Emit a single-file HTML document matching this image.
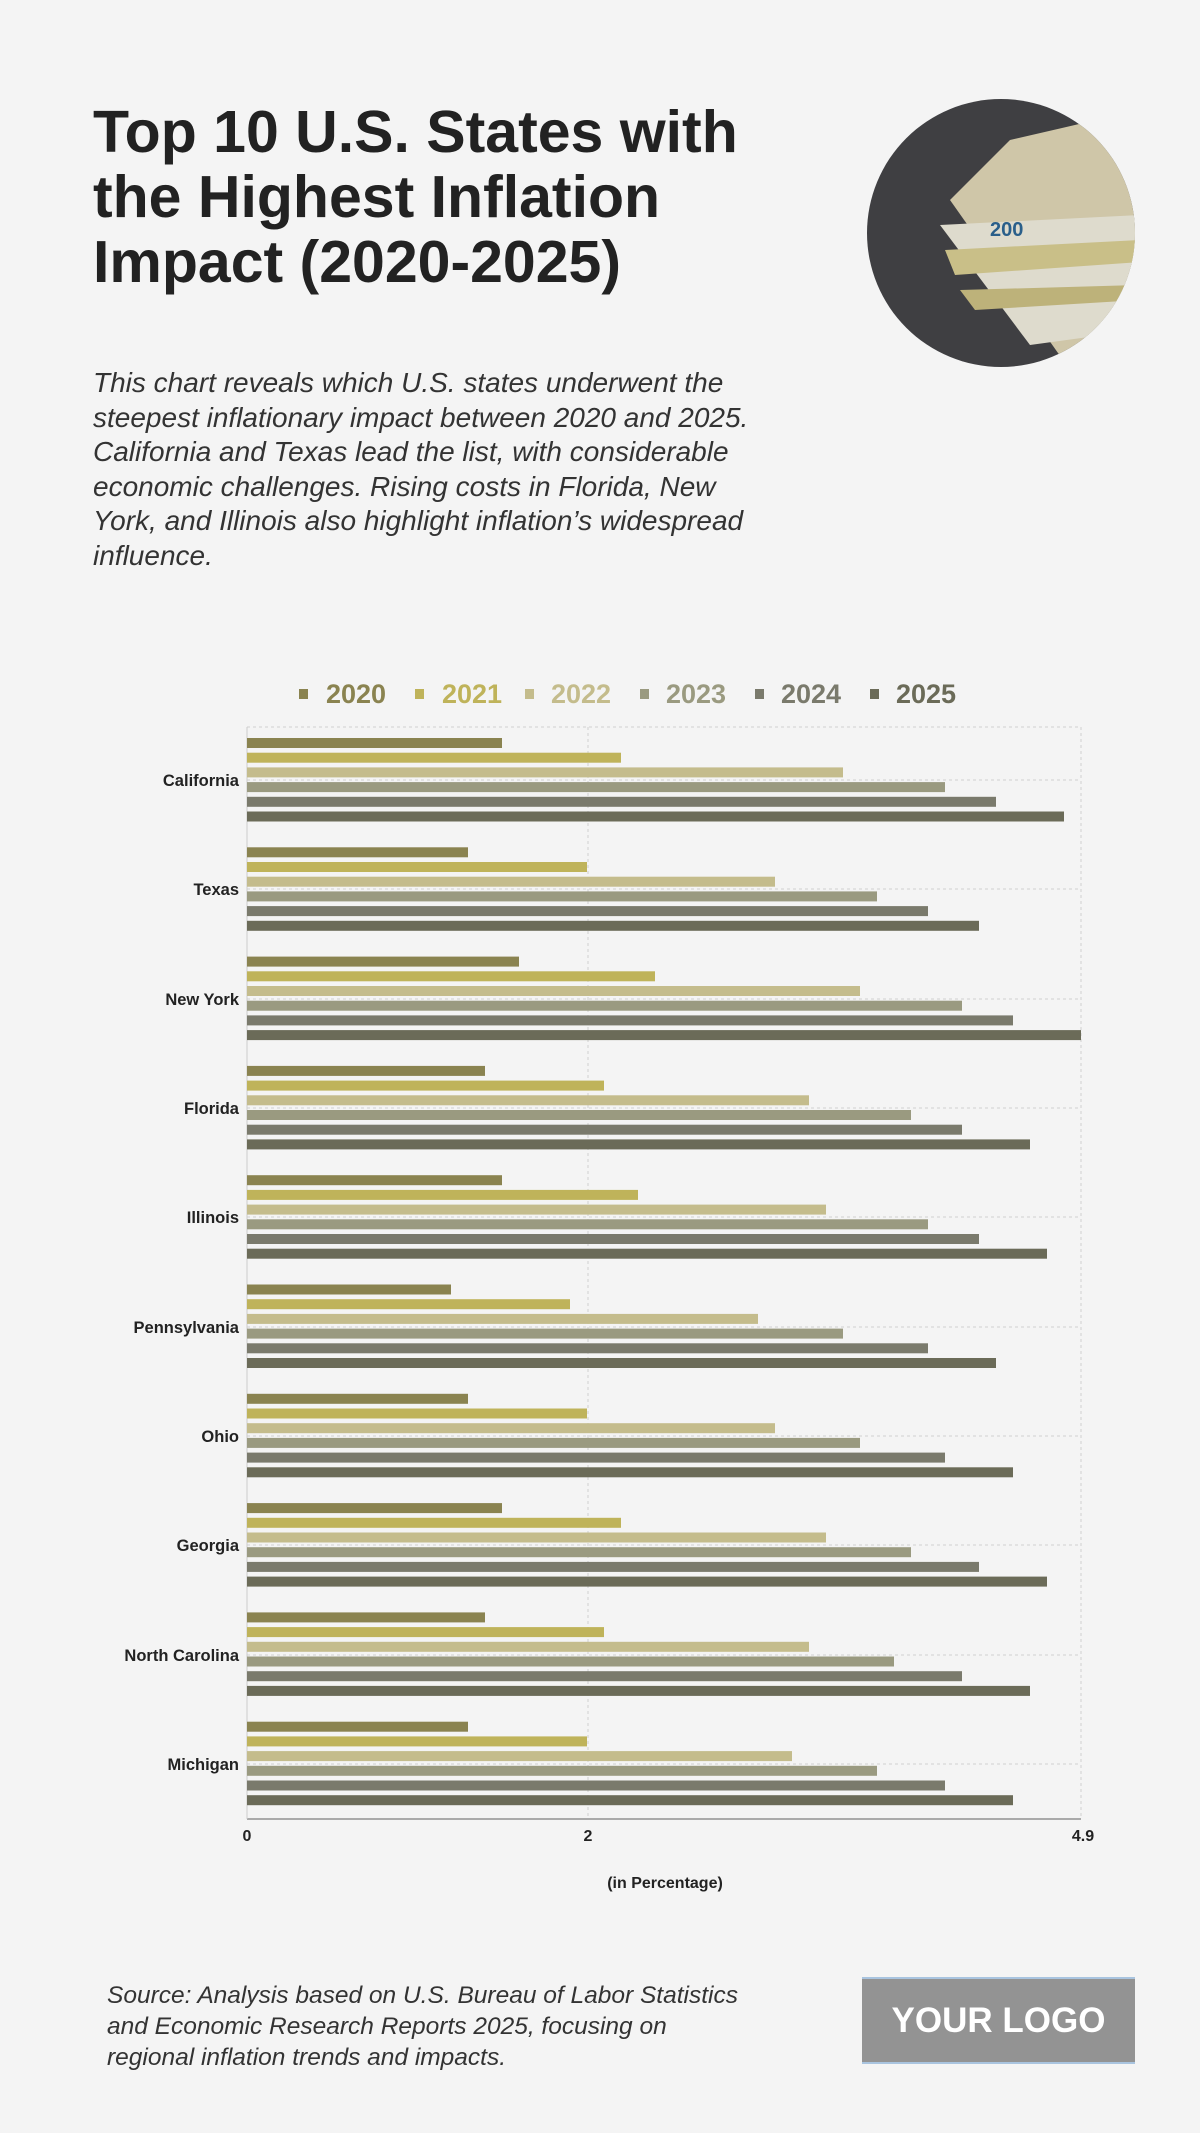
<!DOCTYPE html>
<html><head><meta charset="utf-8"><style>
body{margin:0;background:#f4f4f4;width:1200px;height:2133px;overflow:hidden;position:relative;font-family:"Liberation Sans",sans-serif}
h1{position:absolute;left:93px;top:100px;margin:0;font-size:59px;line-height:65px;font-weight:700;color:#222}
.desc{position:absolute;left:93px;top:366px;width:900px;font-size:28px;line-height:34.5px;font-style:italic;color:#333;white-space:nowrap}
.src{position:absolute;left:107px;top:1980px;font-size:24.5px;line-height:31px;font-style:italic;color:#333;white-space:nowrap}
.logo{position:absolute;left:862px;top:1977px;width:273px;height:87px;background:#939393;border-top:2px solid #a9c4df;border-bottom:2px solid #a9c4df;box-sizing:border-box;color:#fff;font-weight:700;font-size:35px;text-align:center;line-height:83px}
</style></head><body>
<h1>Top 10 U.S. States with<br>the Highest Inflation<br>Impact (2020-2025)</h1>
<div class="desc">This chart reveals which U.S. states underwent the<br>steepest inflationary impact between 2020 and 2025.<br>California and Texas lead the list, with considerable<br>economic challenges. Rising costs in Florida, New<br>York, and Illinois also highlight inflation’s widespread<br>influence.</div>
<svg style="position:absolute;left:0;top:0" width="1200" height="2133">
<defs><clipPath id="c"><circle cx="1001" cy="233" r="134"/></clipPath></defs>
<g clip-path="url(#c)">
<rect x="860" y="90" width="290" height="290" fill="#3f3f42"/>
<polygon points="950,200 1010,140 1140,110 1140,360 1070,370" fill="#cfc6a8"/>
<polygon points="940,225 1140,215 1140,330 1030,345" fill="#dedbcd"/>
<polygon points="945,250 1140,240 1140,262 955,275" fill="#c9bf88"/>
<polygon points="960,290 1140,285 1140,300 975,310" fill="#bdb27a"/>
<text x="990" y="236" font-size="20" font-weight="700" fill="#2a5f8a" font-family="Liberation Sans">200</text>
</g>
<g font-family="Liberation Sans" font-weight="700" font-size="27">
<rect x="299" y="689" width="9" height="10" fill="#8a8350"/><text x="326" y="703" fill="#8a8350">2020</text>
<rect x="415" y="689" width="9" height="10" fill="#bfb35a"/><text x="442" y="703" fill="#bfb35a">2021</text>
<rect x="525" y="689" width="9" height="10" fill="#c4bc8c"/><text x="551" y="703" fill="#c4bc8c">2022</text>
<rect x="640" y="689" width="9" height="10" fill="#9a9a80"/><text x="666" y="703" fill="#9a9a80">2023</text>
<rect x="755" y="689" width="9" height="10" fill="#7a7a6c"/><text x="781" y="703" fill="#7a7a6c">2024</text>
<rect x="870" y="689" width="9" height="10" fill="#6b6b58"/><text x="896" y="703" fill="#6b6b58">2025</text>
</g>
<g stroke="#d0d0d0" stroke-width="1" stroke-dasharray="3,3">
<line x1="247" y1="727" x2="1081" y2="727"/>
<line x1="588" y1="727" x2="588" y2="1819"/>
<line x1="1081" y1="727" x2="1081" y2="1819"/>
<line x1="247" y1="780" x2="1081" y2="780"/><line x1="247" y1="889" x2="1081" y2="889"/><line x1="247" y1="999" x2="1081" y2="999"/><line x1="247" y1="1108" x2="1081" y2="1108"/><line x1="247" y1="1217" x2="1081" y2="1217"/><line x1="247" y1="1327" x2="1081" y2="1327"/><line x1="247" y1="1436" x2="1081" y2="1436"/><line x1="247" y1="1545" x2="1081" y2="1545"/><line x1="247" y1="1655" x2="1081" y2="1655"/><line x1="247" y1="1764" x2="1081" y2="1764"/>
</g>
<line x1="247" y1="1819" x2="1081" y2="1819" stroke="#aaa" stroke-width="2"/>
<line x1="247" y1="727" x2="247" y2="1819" stroke="#ccc" stroke-width="1"/>
<g id="bars">
<g transform="translate(247,738)"><rect y="0" width="255" height="10" fill="#8a8350"/><rect y="14.7" width="374" height="10" fill="#bfb35a"/><rect y="29.4" width="596" height="10" fill="#c4bc8c"/><rect y="44.1" width="698" height="10" fill="#9a9a80"/><rect y="58.8" width="749" height="10" fill="#7a7a6c"/><rect y="73.5" width="817" height="10" fill="#6b6b58"/></g>
<g transform="translate(247,847.3)"><rect y="0" width="221" height="10" fill="#8a8350"/><rect y="14.7" width="340" height="10" fill="#bfb35a"/><rect y="29.4" width="528" height="10" fill="#c4bc8c"/><rect y="44.1" width="630" height="10" fill="#9a9a80"/><rect y="58.8" width="681" height="10" fill="#7a7a6c"/><rect y="73.5" width="732" height="10" fill="#6b6b58"/></g>
<g transform="translate(247,956.6)"><rect y="0" width="272" height="10" fill="#8a8350"/><rect y="14.7" width="408" height="10" fill="#bfb35a"/><rect y="29.4" width="613" height="10" fill="#c4bc8c"/><rect y="44.1" width="715" height="10" fill="#9a9a80"/><rect y="58.8" width="766" height="10" fill="#7a7a6c"/><rect y="73.5" width="834" height="10" fill="#6b6b58"/></g>
<g transform="translate(247,1065.9)"><rect y="0" width="238" height="10" fill="#8a8350"/><rect y="14.7" width="357" height="10" fill="#bfb35a"/><rect y="29.4" width="562" height="10" fill="#c4bc8c"/><rect y="44.1" width="664" height="10" fill="#9a9a80"/><rect y="58.8" width="715" height="10" fill="#7a7a6c"/><rect y="73.5" width="783" height="10" fill="#6b6b58"/></g>
<g transform="translate(247,1175.2)"><rect y="0" width="255" height="10" fill="#8a8350"/><rect y="14.7" width="391" height="10" fill="#bfb35a"/><rect y="29.4" width="579" height="10" fill="#c4bc8c"/><rect y="44.1" width="681" height="10" fill="#9a9a80"/><rect y="58.8" width="732" height="10" fill="#7a7a6c"/><rect y="73.5" width="800" height="10" fill="#6b6b58"/></g>
<g transform="translate(247,1284.5)"><rect y="0" width="204" height="10" fill="#8a8350"/><rect y="14.7" width="323" height="10" fill="#bfb35a"/><rect y="29.4" width="511" height="10" fill="#c4bc8c"/><rect y="44.1" width="596" height="10" fill="#9a9a80"/><rect y="58.8" width="681" height="10" fill="#7a7a6c"/><rect y="73.5" width="749" height="10" fill="#6b6b58"/></g>
<g transform="translate(247,1393.8)"><rect y="0" width="221" height="10" fill="#8a8350"/><rect y="14.7" width="340" height="10" fill="#bfb35a"/><rect y="29.4" width="528" height="10" fill="#c4bc8c"/><rect y="44.1" width="613" height="10" fill="#9a9a80"/><rect y="58.8" width="698" height="10" fill="#7a7a6c"/><rect y="73.5" width="766" height="10" fill="#6b6b58"/></g>
<g transform="translate(247,1503.1)"><rect y="0" width="255" height="10" fill="#8a8350"/><rect y="14.7" width="374" height="10" fill="#bfb35a"/><rect y="29.4" width="579" height="10" fill="#c4bc8c"/><rect y="44.1" width="664" height="10" fill="#9a9a80"/><rect y="58.8" width="732" height="10" fill="#7a7a6c"/><rect y="73.5" width="800" height="10" fill="#6b6b58"/></g>
<g transform="translate(247,1612.4)"><rect y="0" width="238" height="10" fill="#8a8350"/><rect y="14.7" width="357" height="10" fill="#bfb35a"/><rect y="29.4" width="562" height="10" fill="#c4bc8c"/><rect y="44.1" width="647" height="10" fill="#9a9a80"/><rect y="58.8" width="715" height="10" fill="#7a7a6c"/><rect y="73.5" width="783" height="10" fill="#6b6b58"/></g>
<g transform="translate(247,1721.7)"><rect y="0" width="221" height="10" fill="#8a8350"/><rect y="14.7" width="340" height="10" fill="#bfb35a"/><rect y="29.4" width="545" height="10" fill="#c4bc8c"/><rect y="44.1" width="630" height="10" fill="#9a9a80"/><rect y="58.8" width="698" height="10" fill="#7a7a6c"/><rect y="73.5" width="766" height="10" fill="#6b6b58"/></g>
</g>
<g font-family="Liberation Sans" font-weight="700" font-size="16.5" fill="#222" text-anchor="end">
<text x="239" y="786">California</text>
<text x="239" y="895">Texas</text>
<text x="239" y="1005">New York</text>
<text x="239" y="1114">Florida</text>
<text x="239" y="1223">Illinois</text>
<text x="239" y="1333">Pennsylvania</text>
<text x="239" y="1442">Ohio</text>
<text x="239" y="1551">Georgia</text>
<text x="239" y="1661">North Carolina</text>
<text x="239" y="1770">Michigan</text>
</g>
<g font-family="Liberation Sans" font-weight="700" font-size="16" fill="#222" text-anchor="middle">
<text x="247" y="1841">0</text>
<text x="588" y="1841">2</text>
<text x="1083" y="1841">4.9</text>
<text x="665" y="1888">(in Percentage)</text>
</g>
</svg>
<div class="src">Source: Analysis based on U.S. Bureau of Labor Statistics<br>and Economic Research Reports 2025, focusing on<br>regional inflation trends and impacts.</div>
<div class="logo">YOUR LOGO</div>
</body></html>
